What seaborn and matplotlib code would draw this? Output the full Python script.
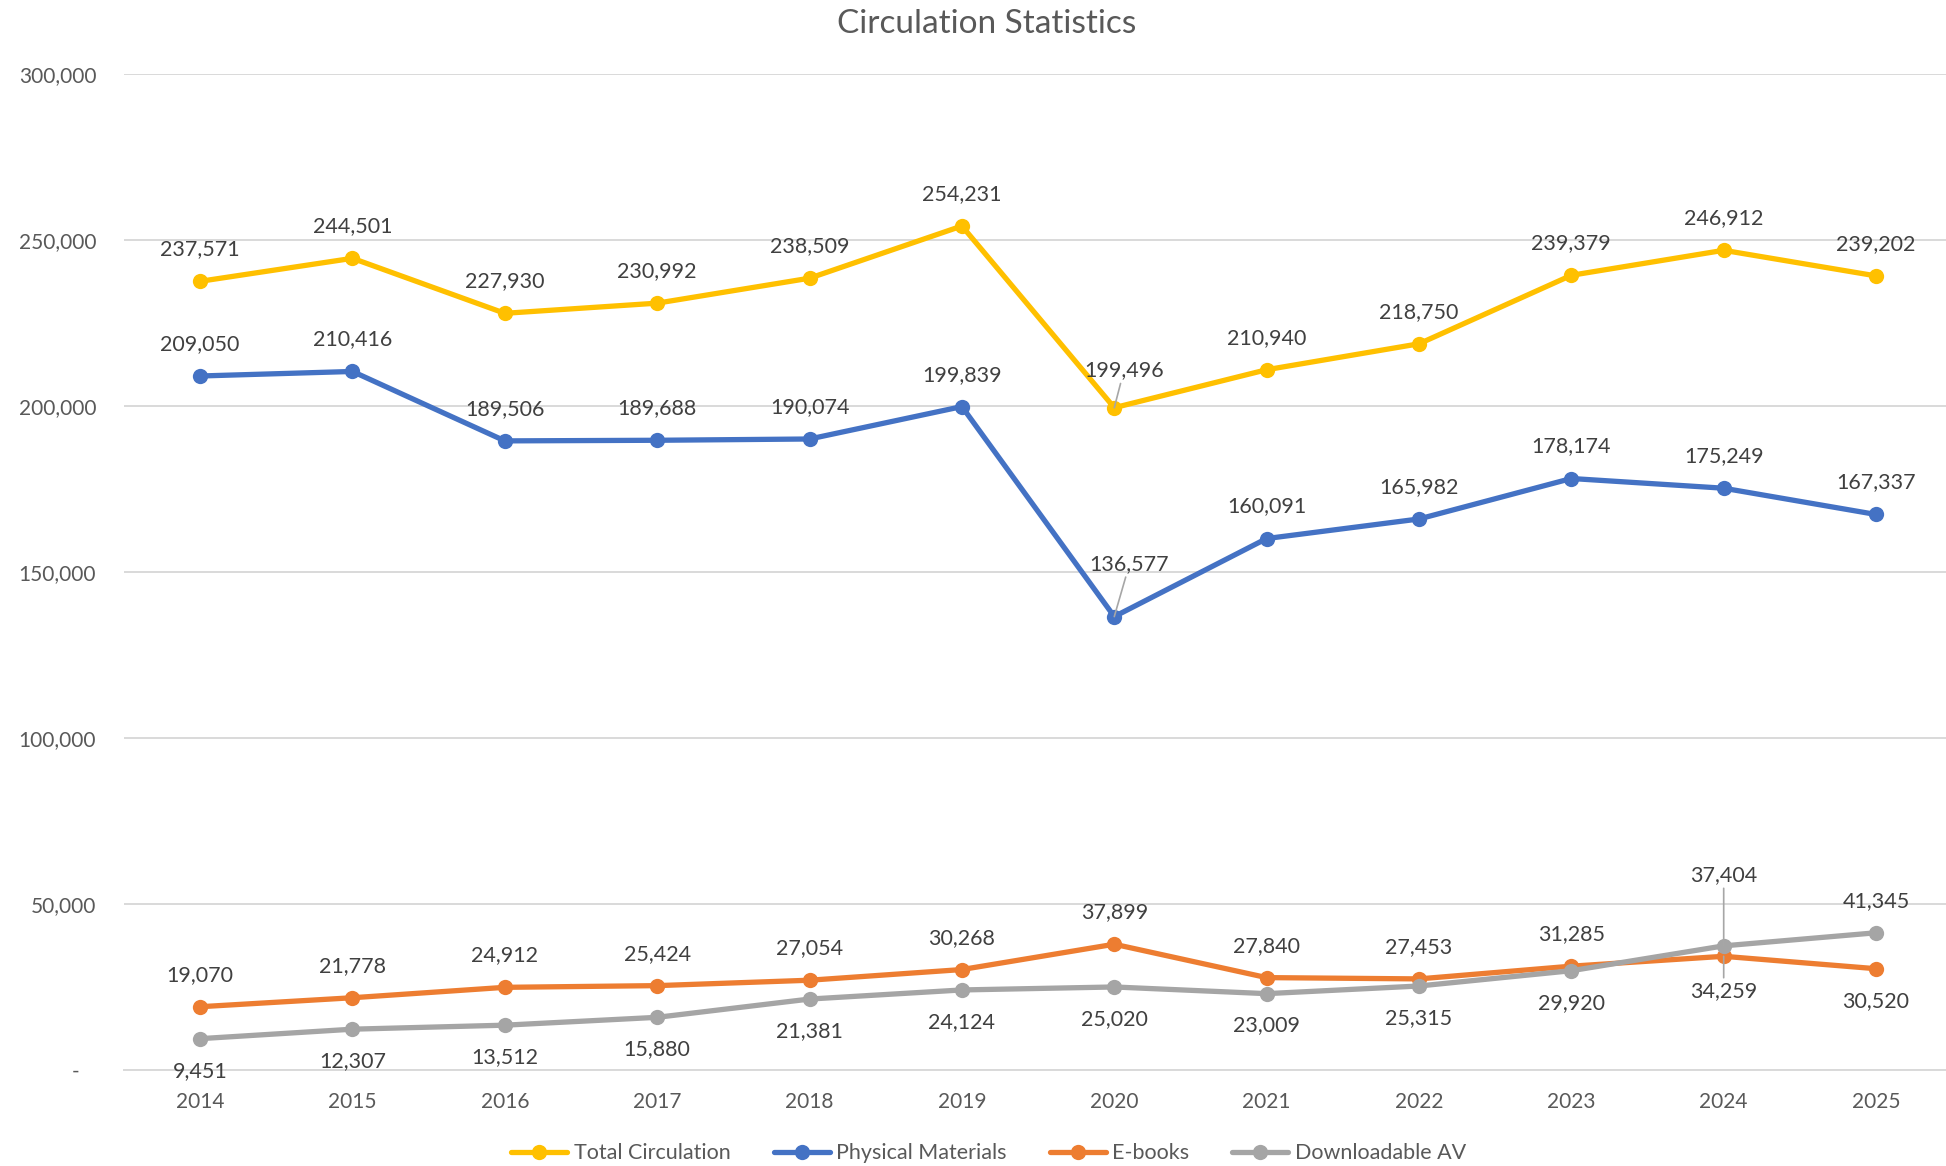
import pandas as pd
import matplotlib.pyplot as plt
import seaborn as sns

years = [2014, 2015, 2016, 2017, 2018, 2019, 2020, 2021, 2022, 2023, 2024, 2025]
total_circulation = [237571, 244501, 227930, 230992, 238509, 254231,
                     199496, 210940, 218750, 239379, 246912, 239202]
physical_materials = [209050, 210416, 189506, 189688, 190074, 199839,
                      136577, 160091, 165982, 178174, 175249, 167337]
ebooks = [19070, 21778, 24912, 25424, 27054, 30268,
          37899, 27840, 27453, 31285, 34259, 30520]
downloadable_av = [9451, 12307, 13512, 15880, 21381, 24124,
                   25020, 23009, 25315, 29920, 37404, 41345]
series_names = ["Total Circulation", "Physical Materials", "E-books", "Downloadable AV"]
y_ticks = [0, 50000, 100000, 150000, 200000, 250000, 300000]

colors = ["#FFC000", "#4472C4", "#ED7D31", "#A5A5A5"]

rows = []
for name, vals in zip(series_names,
                      [total_circulation, physical_materials, ebooks, downloadable_av]):
    for i, (yr, v) in enumerate(zip(years, vals)):
        rows.append({"idx": i, "year": yr, "series": name, "value": v})
df = pd.DataFrame(rows)

sns.set_style("white")
plt.rcParams["font.family"] = ["Lato", "DejaVu Sans"]

fig = plt.figure(figsize=(19.46, 11.66), dpi=100)
ax = fig.add_axes([0.0637, 0.0823, 0.9395, 0.8542])

sns.lineplot(data=df, x="idx", y="value", hue="series", hue_order=series_names,
             palette=colors, marker="o", markersize=11, markeredgewidth=0,
             linewidth=3.8, ax=ax, legend=True, zorder=3)

ax.set_xlim(-0.5, len(years) - 0.5)
ax.set_ylim(0, 300000)
ax.set_yticks(y_ticks)
ax.set_yticklabels(["-   "] + [f"{t:,}" for t in y_ticks[1:]])
ax.tick_params(axis="both", length=0, labelsize=15, labelcolor="#595959")
ax.set_xticks(range(len(years)))
ax.set_xticklabels([str(y) for y in years])
ax.tick_params(axis="y", pad=20)
ax.tick_params(axis="x", pad=16)
ax.set_xlabel("")
ax.set_ylabel("")
ax.grid(axis="y", color="#D9D9D9", linewidth=1.4)
ax.set_axisbelow(True)
for s in ["left", "right", "top"]:
    ax.spines[s].set_visible(False)
ax.spines["bottom"].set_color("#D9D9D9")
ax.spines["bottom"].set_linewidth(1.4)

fig.text(0.507, 0.992, "Circulation Statistics", ha="center", va="top",
         fontsize=24, color="#595959")

# label placement: offsets in points (dx, dy); leader line where marked
below = {"Downloadable AV": set(range(12)) - {10, 11}, "E-books": {10, 11}}
leaders = {("Total Circulation", 6): (7, 27), ("Physical Materials", 6): (11, 38),
           ("Downloadable AV", 10): (0, 51), ("E-books", 10): (0, -25)}

for name, vals in zip(series_names,
                      [total_circulation, physical_materials, ebooks, downloadable_av]):
    for i, v in enumerate(vals):
        key = (name, i)
        if key in leaders:
            dx, dy = leaders[key]
            ax.annotate(f"{v:,}", (i, v), xytext=(dx, dy), textcoords="offset points",
                        ha="center", va="center", fontsize=15.5, color="#404040",
                        arrowprops=dict(arrowstyle="-", color="#A6A6A6", lw=1.2,
                                        shrinkA=0, shrinkB=0), zorder=5)
        else:
            dy = -23 if i in below.get(name, set()) else 23
            ax.annotate(f"{v:,}", (i, v), xytext=(0, dy), textcoords="offset points",
                        ha="center", va="center", fontsize=15.5, color="#404040", zorder=5)

handles, labels = ax.get_legend_handles_labels()
ax.get_legend().remove()
fig.legend(handles, labels, loc="center", bbox_to_anchor=(0.508, 0.011), ncol=4,
           frameon=False, fontsize=15.5, labelcolor="#595959", handlelength=2.6,
           columnspacing=2.0, handletextpad=0.3)

fig.savefig("out.png", dpi=100)
